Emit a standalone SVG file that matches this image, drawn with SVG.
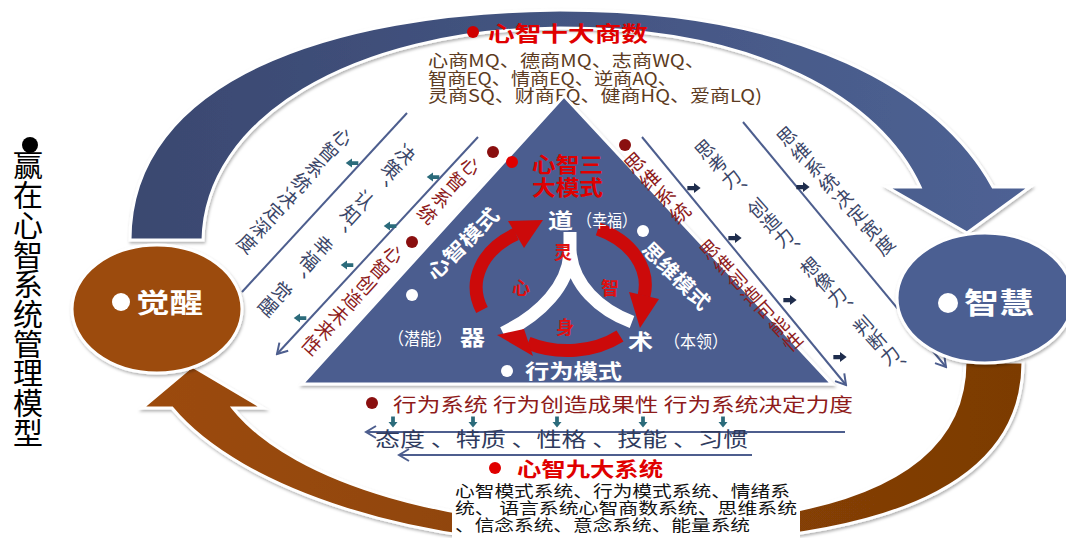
<svg xmlns="http://www.w3.org/2000/svg" xmlns:xlink="http://www.w3.org/1999/xlink" width="1066" height="538" viewBox="0 0 1066 538">
<defs>
<style>
text{font-family:"Noto Sans CJK SC","Liberation Sans",sans-serif;}
.vt{writing-mode:vertical-rl;}
.navy{fill:#3b4668;}
.dred{fill:#8e1b1b;}
.wb{fill:#fff;font-weight:bold;}
.wn{fill:#fff;}
.rb{fill:#e00000;font-weight:bold;}
.rs{fill:#e01010;font-size:18px;font-weight:bold;text-anchor:middle;dominant-baseline:central;}
.ln{stroke:#4d5e8e;stroke-width:2;fill:none;}
.brown{fill:#5c3b22;font-size:17px;}
.blk{fill:#111;font-size:16px;}
</style>
<linearGradient id="gTop" x1="0" y1="0" x2="1" y2="0">
<stop offset="0" stop-color="#3a4870"/><stop offset="1" stop-color="#4e6294"/>
</linearGradient>
<linearGradient id="gBot" x1="0" y1="0" x2="1" y2="0">
<stop offset="0" stop-color="#9c4b0b"/><stop offset="1" stop-color="#7c3b05"/>
</linearGradient>
<filter id="sh" x="-10%" y="-10%" width="120%" height="120%">
<feDropShadow dx="1" dy="2" stdDeviation="1.5" flood-color="#000" flood-opacity="0.3"/>
</filter>
<marker id="ah" markerUnits="userSpaceOnUse" markerWidth="14" markerHeight="14" viewBox="0 0 14 14" refX="12" refY="7" orient="auto">
<path d="M2,1 L12,7 L2,13" fill="none" stroke="#4d5e8e" stroke-width="2"/>
</marker>
<path id="blk" d="M-7,-2.5 H0 V-6 L7,0 L0,6 V2.5 H-7 Z"/>
</defs>
<rect width="1066" height="538" fill="#fff"/>

<!-- big bands -->
<g id="band-bottom">
<path d="M1023,362 C1023,480 900,545 620,545 C420,550 240,490 172,408 L142,408 L192,366 L263,408 L233,408 C295,485 460,528 620,525 C850,525 965,470 965,362 Z" fill="url(#gBot)" stroke="#fff" stroke-width="3" filter="url(#sh)"/>
</g>
<g id="band-top">
<path d="M130,240 C130,80 330,12 560,10 C800,10 940,90 993,187 L1030,187 L967,233 L887,187 L920,187 C880,100 760,28 560,28 C350,30 205,120 203,240 Z" fill="url(#gTop)" stroke="#fff" stroke-width="3" filter="url(#sh)"/>
</g>

<!-- top text -->
<g id="ten-quotients">
<circle cx="473" cy="32" r="6" fill="#d00000"/>
<text x="488" y="41" class="rb" font-size="21" textLength="160" lengthAdjust="spacingAndGlyphs">心智十大商数</text>
<text x="428" y="67" class="brown" textLength="277" lengthAdjust="spacingAndGlyphs">心商MQ、德商MQ、志商WQ、</text>
<text x="428" y="85" class="brown" textLength="249" lengthAdjust="spacingAndGlyphs">智商EQ、情商EQ、逆商AQ、</text>
<text x="428" y="102" class="brown" textLength="334" lengthAdjust="spacingAndGlyphs">灵商SQ、财商FQ、健商HQ、爱商LQ)</text>
</g>

<!-- triangle -->
<g id="triangle">
<path d="M564,96 L302,384 L832,384 Z" fill="#4b5d8f" stroke="#fff" stroke-width="3" filter="url(#sh)"/>
</g>

<!-- connectors -->
<g id="connectors">
<line class="ln" x1="407" y1="113" x2="242" y2="292"/>
<line class="ln" x1="478" y1="137" x2="277" y2="354" marker-end="url(#ah)"/>
<line class="ln" x1="642" y1="137" x2="846" y2="385" marker-end="url(#ah)"/>
<line class="ln" x1="743" y1="122" x2="946" y2="367" marker-end="url(#ah)"/>
<line class="ln" x1="845" y1="432" x2="366" y2="432" marker-end="url(#ah)"/>
<line class="ln" x1="752" y1="455" x2="399" y2="455" marker-end="url(#ah)"/>
<g fill="#2b6b7b">
<use xlink:href="#blk" transform="translate(352,163) scale(-0.9,0.75)"/>
<use xlink:href="#blk" transform="translate(433,177) scale(-0.9,0.75)"/>
<use xlink:href="#blk" transform="translate(390,226) scale(-0.9,0.75)"/>
<use xlink:href="#blk" transform="translate(347,265) scale(-0.9,0.75)"/>
<use xlink:href="#blk" transform="translate(300,318) scale(-0.9,0.75)"/>
<use xlink:href="#blk" transform="translate(393,422) rotate(90) scale(0.8,0.75)"/>
<use xlink:href="#blk" transform="translate(473,422) rotate(90) scale(0.8,0.75)"/>
<use xlink:href="#blk" transform="translate(557,422) rotate(90) scale(0.8,0.75)"/>
<use xlink:href="#blk" transform="translate(643,422) rotate(90) scale(0.8,0.75)"/>
<use xlink:href="#blk" transform="translate(723,422) rotate(90) scale(0.8,0.75)"/>
</g>
<g fill="#1f2d4d">
<use xlink:href="#blk" transform="translate(694,188) scale(0.95,0.85)"/>
<use xlink:href="#blk" transform="translate(803,187) scale(0.95,0.85)"/>
<use xlink:href="#blk" transform="translate(735,238) scale(0.95,0.85)"/>
<use xlink:href="#blk" transform="translate(790,300) scale(0.95,0.85)"/>
<use xlink:href="#blk" transform="translate(840,357) scale(0.95,0.85)"/>
</g>
</g>

<!-- left side texts -->
<g id="left-texts">
<text class="vt navy" transform="translate(349,130) rotate(42)" font-size="19" letter-spacing="1.4">心智系统决定深度</text>
<text class="vt navy" transform="translate(412,147) rotate(42)" font-size="19" letter-spacing="1.5">决策、认知、幸福、觉醒</text>
<circle cx="493" cy="152" r="6" fill="#8a0f0f"/>
<text class="vt dred" transform="translate(477,159) rotate(42)" font-size="19" letter-spacing="2.5">心智系统</text>
<circle cx="412" cy="242" r="6" fill="#8a0f0f"/>
<text class="vt dred" transform="translate(400,247) rotate(42)" font-size="19" letter-spacing="1.4">心智创造未来性</text>
</g>

<!-- right side texts -->
<g id="right-texts">
<circle cx="625" cy="145" r="6" fill="#8a0f0f"/>
<text class="vt dred" transform="translate(628,155) rotate(-42)" font-size="20" letter-spacing="2.6">思维系统</text>
<text class="vt dred" transform="translate(703,242) rotate(-42)" font-size="19" letter-spacing="1.7">思维创造可能性</text>
<text class="vt navy" transform="translate(698,142) rotate(-42)" font-size="19" letter-spacing="0.8">思考力、创造力、想像力、判断力、</text>
<text class="vt navy" transform="translate(780,129) rotate(-42)" font-size="19" letter-spacing="2">思维系统决定宽度</text>
</g>

<!-- three modes -->
<g id="three-modes">
<circle cx="512" cy="162" r="6" fill="#e00000"/>
<text x="532" y="172" class="rb" font-size="21" textLength="71" lengthAdjust="spacingAndGlyphs">心智三</text>
<text x="532" y="195" class="rb" font-size="21" textLength="71" lengthAdjust="spacingAndGlyphs">大模式</text>
<circle cx="412" cy="295" r="6" fill="#fff"/>
<text class="wb" transform="translate(462,243) rotate(-45)" font-size="20" text-anchor="middle" dominant-baseline="central" textLength="92" lengthAdjust="spacingAndGlyphs">心智模式</text>
<circle cx="643" cy="231" r="6" fill="#fff"/>
<text class="wb" transform="translate(677,275) rotate(45)" font-size="20" text-anchor="middle" dominant-baseline="central" textLength="86" lengthAdjust="spacingAndGlyphs">思维模式</text>
<circle cx="507" cy="371" r="6" fill="#fff"/>
<text x="525" y="379" class="wb" font-size="20" textLength="97" lengthAdjust="spacingAndGlyphs">行为模式</text>
</g>

<!-- cycle -->
<g id="cycle">
<path d="M570,232 L570,250 C570,285 540,315 503,333 M570,250 C572,285 600,310 632,322" fill="none" stroke="#fff" stroke-width="13"/>
<g fill="none" stroke="#cc0a0a" stroke-width="13">
<path d="M482,310 A82,62 0 0 1 516,234"/>
<path d="M598,229 A82,62 0 0 1 644,296"/>
<path d="M620,336 A82,62 0 0 1 528,343"/>
</g>
<g fill="#cc0a0a">
<polygon points="543,220 524,248 508,221"/>
<polygon points="640,328 659,299 629,292"/>
<polygon points="497,335 533,356 524,329"/>
</g>
<text x="548" y="228" class="wb" font-size="21" textLength="25" lengthAdjust="spacingAndGlyphs">道</text>
<text x="577" y="227" class="wn" font-size="17" textLength="60" lengthAdjust="spacingAndGlyphs">（幸福）</text>
<text x="388" y="345" class="wn" font-size="17" textLength="64" lengthAdjust="spacingAndGlyphs">（潜能）</text>
<text x="460" y="345" class="wb" font-size="21" textLength="25" lengthAdjust="spacingAndGlyphs">器</text>
<text x="628" y="349" class="wb" font-size="21" textLength="25" lengthAdjust="spacingAndGlyphs">术</text>
<text x="664" y="348" class="wn" font-size="17" textLength="64" lengthAdjust="spacingAndGlyphs">（本领）</text>
<text x="563" y="251" class="rs">灵</text>
<text x="521" y="287" class="rs">心</text>
<text x="610" y="287" class="rs">智</text>
<text x="565" y="326" class="rs">身</text>
</g>

<!-- behaviour -->
<g id="behaviour">
<circle cx="372" cy="403" r="6" fill="#8a0f0f"/>
<text x="393" y="412" class="dred" font-size="19" textLength="460" lengthAdjust="spacingAndGlyphs">行为系统 行为创造成果性 行为系统决定力度</text>
<text x="375" y="447" font-size="20" textLength="373" lengthAdjust="spacingAndGlyphs" fill="#2f3b5e">态度 、特质 、性格  、技能 、习惯</text>
</g>

<!-- nine systems -->
<g id="nine-systems">
<rect x="452" y="484" width="348" height="54" fill="#fff"/>
<circle cx="495" cy="468" r="6" fill="#e00000"/>
<text x="517" y="477" class="rb" font-size="20" textLength="146" lengthAdjust="spacingAndGlyphs">心智九大系统</text>
<text x="455" y="497" class="blk" textLength="335" lengthAdjust="spacingAndGlyphs">心智模式系统、行为模式系统、情绪系</text>
<text x="455" y="514" class="blk" textLength="342" lengthAdjust="spacingAndGlyphs">统、 语言系统心智商数系统、思维系统</text>
<text x="455" y="531" class="blk" textLength="295" lengthAdjust="spacingAndGlyphs">、信念系统、意念系统、能量系统</text>
</g>

<!-- circles -->
<g id="awaken">
<ellipse cx="157" cy="309" rx="85" ry="64" fill="#9c4b0b" stroke="#fff" stroke-width="3" filter="url(#sh)"/>
<circle cx="121" cy="302" r="9" fill="#fff"/>
<text x="136" y="313" class="wb" font-size="27" textLength="67" lengthAdjust="spacingAndGlyphs">觉醒</text>
</g>
<g id="wisdom">
<ellipse cx="985" cy="298" rx="88" ry="65" fill="#4c5f92" stroke="#fff" stroke-width="3" filter="url(#sh)"/>
<circle cx="948" cy="303" r="10" fill="#fff"/>
<text x="964" y="314" class="wb" font-size="29" textLength="70" lengthAdjust="spacingAndGlyphs">智慧</text>
</g>

<!-- title -->
<g id="title">
<circle cx="30" cy="145" r="8" fill="#000"/>
<text class="vt" x="28" y="150" font-size="30" fill="#000" letter-spacing="-0.3">赢在心智系统管理模型</text>
</g>
</svg>
